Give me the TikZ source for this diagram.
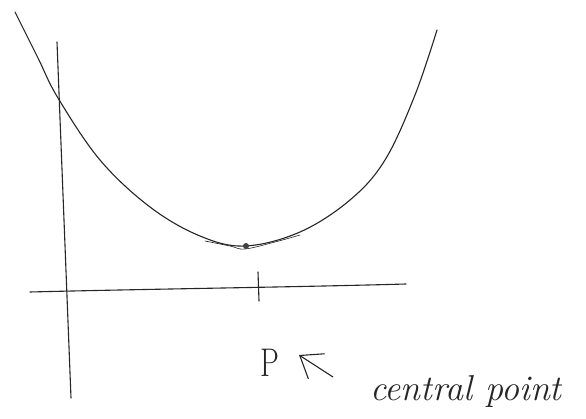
\documentclass[tikz,border=0pt]{standalone}
\usetikzlibrary{arrows.meta}
\begin{document}
\begin{tikzpicture}[x=1pt,y=-1pt,
  pen/.style={draw=black!85,line width=1.1pt,line cap=round,line join=round},
  label/.style={font=\itshape\fontsize{36}{38}\selectfont,text=black!85,inner sep=0pt}]
\useasboundingbox[fill=white] (0,0) rectangle (586,419);
% axes
\draw[pen] (57,42) -- (71,398);
\draw[pen] (30,292) .. controls (150,289) and (300,287) .. (406,284);
% tick at central point
\coordinate (tickTop) at (258,272);
\coordinate (tickBot) at (259,301);
\draw[pen] (tickTop) -- (tickBot);
% curve
\draw[pen] plot[smooth,tension=0.6] coordinates {(15,12) (38,58) (58,98) (100,160) (150,207) (200,236) (245,246) (300,232) (350,200) (385,160) (415,95) (437,30)};
\draw[pen,line width=0.6pt] plot[smooth,tension=0.6] coordinates {(205,241) (230,246) (245,249) (275,242) (300,235)};
\node[circle,fill=black!75,inner sep=0pt,minimum size=6pt] (minpt) at (246,246) {};
% labels
\node[font=\fontsize{40}{42}\selectfont,text=black!85,inner sep=0pt,xscale=0.75] (P) at (270,363) {P};
\node[label] (central) at (466,391) {central point};
\coordinate (arrTail) at (333,377);
\draw[pen,-{Straight Barb[length=20pt,width=30pt]}] (arrTail) -- (299,355);
\end{tikzpicture}
\end{document}
